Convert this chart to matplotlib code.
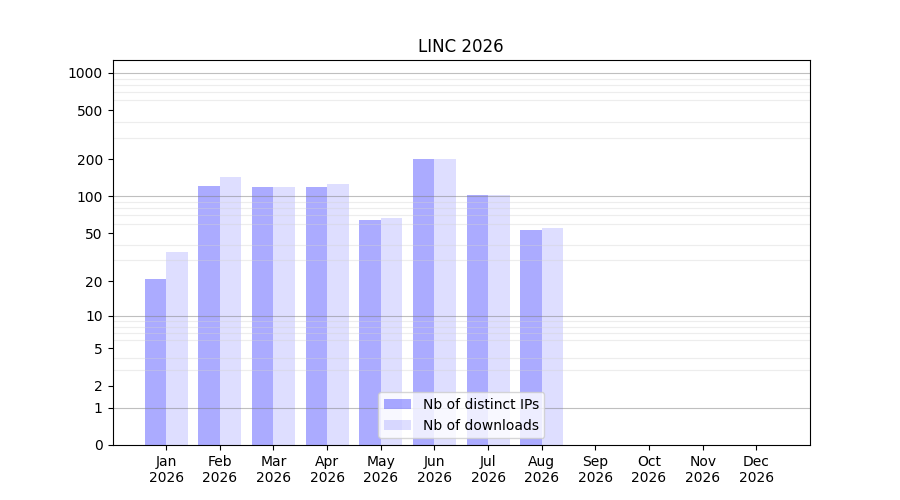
import numpy as np
import matplotlib
matplotlib.use("Agg")
import matplotlib.pyplot as plt

months = ["Jan", "Feb", "Mar", "Apr", "May", "Jun", "Jul", "Aug", "Sep", "Oct", "Nov", "Dec"]
year = 2026
distinct_ips = [21, 122, 120, 119, 64, 200, 103, 53, 0, 0, 0, 0]
downloads = [35, 145, 120, 127, 67, 200, 102, 55, 0, 0, 0, 0]
ytick_values = [0, 1, 2, 5, 10, 20, 50, 100, 200, 500, 1000]


def fwd(v):
    return np.log10(np.maximum(v, 0) + 1)


def inv(v):
    return 10 ** v - 1


fig, ax = plt.subplots(figsize=(9, 5), dpi=100)
x = np.arange(len(months))
w = 0.4
ax.bar(x - w / 2, distinct_ips, w, color="blue", alpha=0.33, label="Nb of distinct IPs")
ax.bar(x + w / 2, downloads, w, color="blue", alpha=0.13, label="Nb of downloads")

ax.set_yscale("function", functions=(fwd, inv))
ax.set_ylim(0, 1270)
ax.set_xlim(-1, 12)
ax.set_yticks(ytick_values)
ax.set_yticklabels([str(v) for v in ytick_values])

# light lines on every 2..9 x decade, darker on the decades
minor = [k * 10 ** n for n in range(0, 3) for k in range(2, 10)]
ax.set_yticks(minor, minor=True)
ax.tick_params(axis="y", which="minor", length=0)
ax.grid(axis="y", which="minor", color="lightgray", alpha=0.4, linewidth=0.8)
for d in [1, 10, 100, 1000]:
    ax.axhline(d, color="gray", alpha=0.5, linewidth=0.8)

ax.set_xticks(x)
ax.set_xticklabels([f"{m}\n{year}" for m in months])
ax.set_title(f"LINC {year}")
ax.legend(loc="lower center")

fig.savefig("out.png")
